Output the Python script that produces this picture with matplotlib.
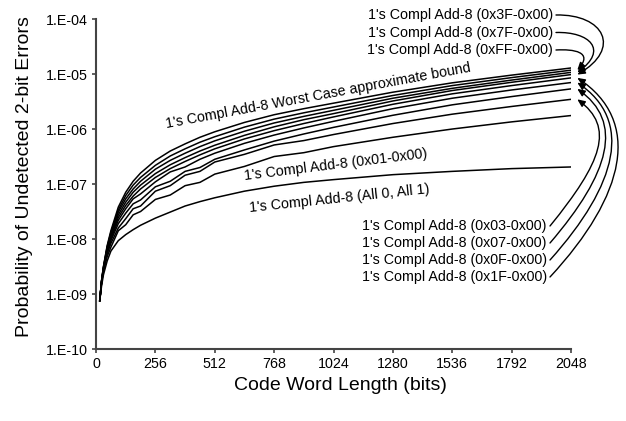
import numpy as np
import matplotlib
matplotlib.use("Agg")
import matplotlib.pyplot as plt
from matplotlib.patches import FancyArrowPatch
from matplotlib.path import Path
from matplotlib.transforms import IdentityTransform

plt.rcParams['font.family'] = ['Liberation Sans', 'DejaVu Sans']

# code word length (bits) where values were read
code_bits = [16, 24, 32, 48, 64, 96, 128, 160, 192, 256, 320, 384, 448, 512,
             640, 768, 896, 1024, 1280, 1536, 1792, 2048]

# log10 of probability of undetected 2-bit errors
log_worst = [-9.12, -8.75, -8.50, -8.12, -7.85, -7.42, -7.15, -6.95, -6.80, -6.57, -6.40,
             -6.27, -6.15, -6.05, -5.88, -5.74, -5.63, -5.53, -5.33, -5.16, -5.02, -4.89]
log_ff = [-9.12, -8.755, -8.51, -8.14, -7.88, -7.47, -7.21, -7.02, -6.88, -6.66, -6.49,
          -6.36, -6.24, -6.14, -5.965, -5.82, -5.705, -5.60, -5.39, -5.21, -5.065, -4.93]
log_7f = [-9.12, -8.76, -8.52, -8.16, -7.91, -7.51, -7.27, -7.09, -6.95, -6.73, -6.57,
          -6.44, -6.32, -6.215, -6.04, -5.89, -5.77, -5.66, -5.44, -5.26, -5.11, -4.97]
log_3f = [-9.12, -8.765, -8.53, -8.18, -7.94, -7.56, -7.33, -7.15, -7.02, -6.81, -6.65,
          -6.52, -6.40, -6.295, -6.115, -5.96, -5.83, -5.72, -5.49, -5.30, -5.15, -5.01]
log_1f = [-9.12, -8.77, -8.54, -8.20, -7.97, -7.61, -7.39, -7.22, -7.09, -6.88, -6.72,
          -6.59, -6.47, -6.36, -6.18, -6.03, -5.90, -5.78, -5.55, -5.36, -5.21, -5.07]
log_0f = [-9.12, -8.775, -8.55, -8.22, -8.00, -7.66, -7.45, -7.27, -7.18, -6.96, -6.78,
          -6.69, -6.55, -6.44, -6.26, -6.11, -5.98, -5.86, -5.63, -5.44, -5.29, -5.155]
log_07 = [-9.12, -8.78, -8.56, -8.24, -8.03, -7.72, -7.53, -7.36, -7.29, -7.05, -6.95,
          -6.77, -6.70, -6.55, -6.38, -6.22, -6.09, -5.97, -5.75, -5.56, -5.41, -5.27]
log_03 = [-9.12, -8.785, -8.57, -8.27, -8.08, -7.80, -7.63, -7.45, -7.40, -7.13, -7.03,
          -6.84, -6.77, -6.60, -6.46, -6.29, -6.21, -6.10, -5.90, -5.73, -5.59, -5.46]
log_01 = [-9.12, -8.79, -8.58, -8.32, -8.15, -7.85, -7.74, -7.56, -7.50, -7.28, -7.20,
          -7.03, -6.97, -6.82, -6.68, -6.50, -6.43, -6.32, -6.15, -6.00, -5.87, -5.755]
log_all = [-9.12, -8.85, -8.65, -8.40, -8.22, -8.03, -7.92, -7.83, -7.75, -7.62, -7.51,
           -7.40, -7.32, -7.25, -7.13, -7.04, -6.97, -6.92, -6.83, -6.77, -6.72, -6.69]

x_ticks = [0, 256, 512, 768, 1024, 1280, 1536, 1792, 2048]
y_ticks = [1e-10, 1e-9, 1e-8, 1e-7, 1e-6, 1e-5, 1e-4]
y_tick_labels = ['1.E-10', '1.E-09', '1.E-08', '1.E-07', '1.E-06', '1.E-05', '1.E-04']

top_labels = ["1's Compl Add-8 (0x3F-0x00)", "1's Compl Add-8 (0x7F-0x00)",
              "1's Compl Add-8 (0xFF-0x00)"]
bottom_labels = ["1's Compl Add-8 (0x03-0x00)", "1's Compl Add-8 (0x07-0x00)",
                 "1's Compl Add-8 (0x0F-0x00)", "1's Compl Add-8 (0x1F-0x00)"]

W, H = 626, 421
fig = plt.figure(figsize=(W / 100, H / 100), dpi=100)
ax = fig.add_axes([0.1534, 0.171, 0.7588, 0.7838])

series = [log_worst, log_ff, log_7f, log_3f, log_1f, log_0f, log_07, log_03, log_01, log_all]
for s in series:
    ax.plot(code_bits, 10 ** np.array(s), color='black', lw=1.1)

ax.set_yscale('log')
ax.set_xlim(0, 2048)
ax.set_ylim(1e-10, 1e-4)
ax.set_xticks(x_ticks)
ax.set_yticks(y_ticks)
ax.set_yticklabels(y_tick_labels)
ax.minorticks_off()
ax.tick_params(labelsize=10.3, length=3, width=1.2, color='#444444', pad=3)
for side in ['top', 'right']:
    ax.spines[side].set_visible(False)
for side in ['left', 'bottom']:
    ax.spines[side].set_color('#444444')
    ax.spines[side].set_linewidth(1.5)


def px(x, y):
    # reference pixel (y down) -> figure fraction
    return x / W, 1 - y / H


fig.text(*px(25, 177), 'Probability of Undetected 2-bit Errors',
         rotation=90, ha='center', va='center', fontsize=14)
fig.text(*px(340, 385), 'Code Word Length (bits)',
         ha='center', va='center', fontsize=14)

# labels lying along the curves
fig.text(*px(318, 96), "1's Compl Add-8 Worst Case approximate bound",
         rotation=10.5, rotation_mode='anchor', ha='center', va='center', fontsize=10.3)
fig.text(*px(336, 165), "1's Compl Add-8 (0x01-0x00)",
         rotation=7, rotation_mode='anchor', ha='center', va='center', fontsize=10.3)
fig.text(*px(339, 199), "1's Compl Add-8 (All 0, All 1)",
         rotation=6, rotation_mode='anchor', ha='center', va='center', fontsize=10.3)


def curved_arrow(p0, c1, c2, p3):
    path = Path([p0, c1, c2, p3], [Path.MOVETO, Path.CURVE4, Path.CURVE4, Path.CURVE4])
    arr = FancyArrowPatch(path=path, arrowstyle='-|>,head_length=0.45,head_width=0.2',
                          mutation_scale=10, color='black', lw=1.0,
                          transform=IdentityTransform())
    fig.add_artist(arr)


end_x = 2075


def line_end(v):
    return ax.transData.transform((end_x, 10 ** v))


# top callouts
top_y = [15, 32.5, 50]
top_ends = [log_3f[-1], log_7f[-1], log_ff[-1]]
top_reach = [60, 42, 22]
for lab, ty, v, r in zip(top_labels, top_y, top_ends, top_reach):
    fig.text(*px(553, ty), lab, ha='right', va='center', fontsize=10.3)
    ex, ey = line_end(v)
    sx, sy = 556, H - ty
    curved_arrow((sx, sy), (sx + r * 0.8, sy + 1), (ex + r * 0.75, ey + 14 + r * 0.2), (ex, ey))

# bottom callouts
bottom_y = [226, 243, 260, 277]
bottom_ends = [log_03[-1], log_07[-1], log_0f[-1], log_1f[-1]]
for i, (lab, ty, v) in enumerate(zip(bottom_labels, bottom_y, bottom_ends)):
    fig.text(*px(547, ty), lab, ha='right', va='center', fontsize=10.3)
    ex, ey = line_end(v)
    sx, sy = 550, H - ty
    curved_arrow((sx, sy), (sx + 52 + 8 * i, sy + 64 + 6 * i),
                 (ex + 38 + 9 * i, ey - 28 - 5 * i), (ex, ey))

fig.savefig('out.png', dpi=100)
